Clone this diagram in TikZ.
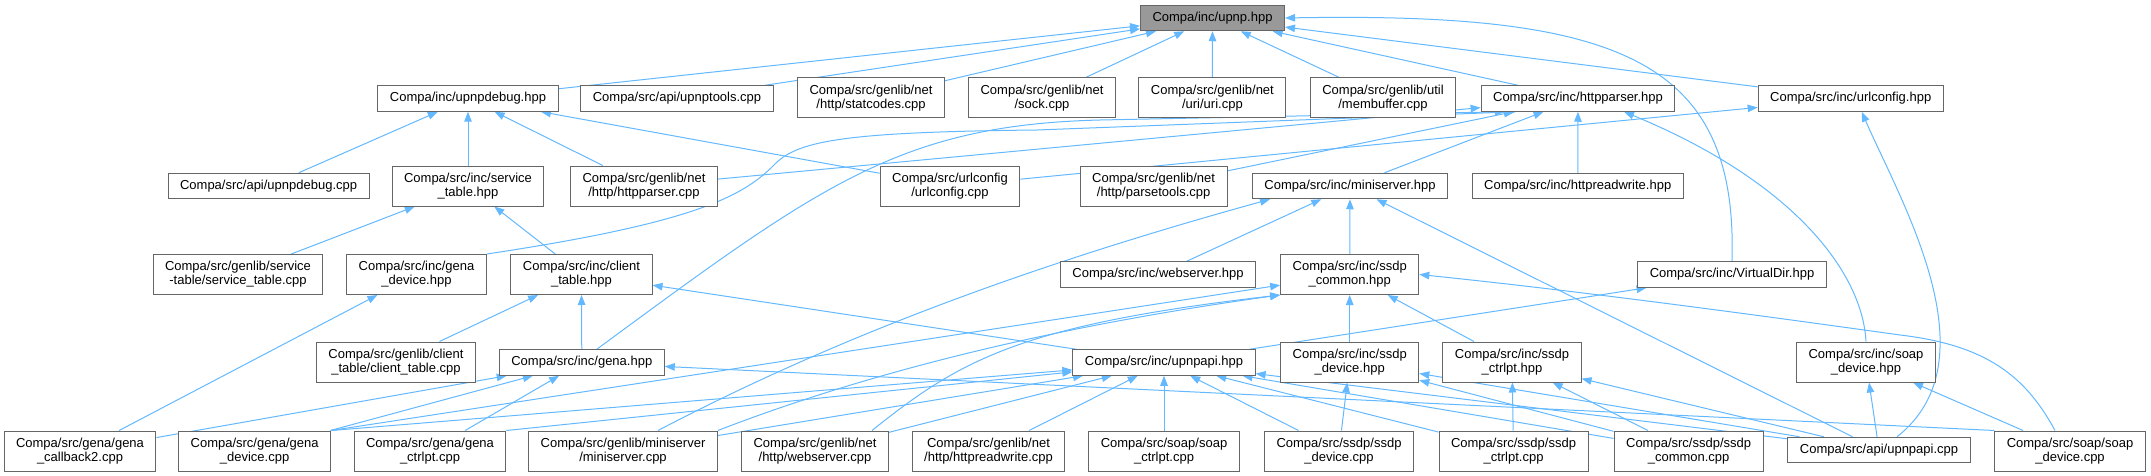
\documentclass[tikz,border=0pt]{standalone}
\usepackage{fontspec}
\setmainfont{Liberation Sans}
\usetikzlibrary{arrows.meta, backgrounds}
\definecolor{nodegrey}{HTML}{666666}
\definecolor{rootgrey}{HTML}{999999}
\definecolor{incblue}{HTML}{63B8FF}
\tikzset{
  file/.style     = {draw=nodegrey, fill=white, line width=1pt, inner xsep=12pt,
                     inner ysep=0pt, align=center, font=\fontsize{13}{14}\selectfont},
  onefile/.style  = {file, minimum height=25.5pt},
  twofile/.style  = {file, minimum height=40pt},
  rootfile/.style = {onefile, fill=rootgrey},
  % an include: the arrow points at the header that is included
  inc/.style      = {draw=incblue, line width=1pt, -{Triangle[length=10pt, width=7.5pt]}},
}

\begin{document}
\begin{tikzpicture}[x=1pt, y=-1pt]
\useasboundingbox (0,0) rectangle (2151,476);
% row 0 and 1
\node[rootfile] (upnp)        at (1212.5,18) {Compa/inc/upnp.hpp};
\node[onefile]  (upnpdebugh)  at (468,98.5)  {Compa/inc/upnpdebug.hpp};
\node[onefile]  (upnptools)   at (677,98.5)  {Compa/src/api/upnptools.cpp};
\node[twofile]  (statcodes)   at (871,98)    {Compa/src/genlib/net\\/http/statcodes.cpp};
\node[twofile]  (sock)        at (1042,98)   {Compa/src/genlib/net\\/sock.cpp};
\node[twofile]  (uri)         at (1212.4,98) {Compa/src/genlib/net\\/uri/uri.cpp};
\node[twofile]  (membuffer)   at (1383,98)   {Compa/src/genlib/util\\/membuffer.cpp};
\node[onefile]  (httpparserh) at (1578,98.5) {Compa/src/inc/httpparser.hpp};
\node[onefile]  (urlconfigh)  at (1850.7,98.5) {Compa/src/inc/urlconfig.hpp};
% row 2
\node[onefile]  (upnpdebugc)     at (268.6,186) {Compa/src/api/upnpdebug.cpp};
\node[twofile]  (servicetableh)  at (468,186)   {Compa/src/inc/service\\\_table.hpp};
\node[twofile]  (httpparserc)    at (644,186)   {Compa/src/genlib/net\\/http/httpparser.cpp};
\node[twofile]  (urlconfigc)     at (950,186)   {Compa/src/urlconfig\\/urlconfig.cpp};
\node[twofile]  (parsetools)     at (1153.6,186) {Compa/src/genlib/net\\/http/parsetools.cpp};
\node[onefile]  (miniserverh)    at (1350,186)  {Compa/src/inc/miniserver.hpp};
\node[onefile]  (httpreadwriteh) at (1577.7,186) {Compa/src/inc/httpreadwrite.hpp};
% row 3
\node[twofile]  (servicetablec) at (238,274.5)    {Compa/src/genlib/service\\-table/service\_table.cpp};
\node[twofile]  (genadeviceh)   at (416.5,274.5)  {Compa/src/inc/gena\\\_device.hpp};
\node[twofile]  (clienttableh)  at (581.5,274.5)  {Compa/src/inc/client\\\_table.hpp};
\node[onefile]  (webserverh)    at (1158,274.5)   {Compa/src/inc/webserver.hpp};
\node[twofile]  (ssdpcommonh)   at (1349.7,274.5) {Compa/src/inc/ssdp\\\_common.hpp};
\node[onefile]  (virtualdir)    at (1732,274.5)   {Compa/src/inc/VirtualDir.hpp};
% row 4
\node[twofile]  (clienttablec) at (396,362)    {Compa/src/genlib/client\\\_table/client\_table.cpp};
\node[onefile]  (genah)        at (581.8,362.5) {Compa/src/inc/gena.hpp};
\node[onefile]  (upnpapih)     at (1164,362.5) {Compa/src/inc/upnpapi.hpp};
\node[twofile]  (ssdpdeviceh)  at (1349.7,362) {Compa/src/inc/ssdp\\\_device.hpp};
\node[twofile]  (ssdpctrlpth)  at (1512,362)   {Compa/src/inc/ssdp\\\_ctrlpt.hpp};
\node[twofile]  (soapdeviceh)  at (1866,362)   {Compa/src/inc/soap\\\_device.hpp};
% row 5
\node[twofile]  (genacallback)   at (80,451)     {Compa/src/gena/gena\\\_callback2.cpp};
\node[twofile]  (genadevicec)    at (254.6,451)  {Compa/src/gena/gena\\\_device.cpp};
\node[twofile]  (genactrlptc)    at (430,451)    {Compa/src/gena/gena\\\_ctrlpt.cpp};
\node[twofile]  (miniserverc)    at (623,451)    {Compa/src/genlib/miniserver\\/miniserver.cpp};
\node[twofile]  (webserverc)     at (815,451)    {Compa/src/genlib/net\\/http/webserver.cpp};
\node[twofile]  (httpreadwritec) at (988.5,451)  {Compa/src/genlib/net\\/http/httpreadwrite.cpp};
\node[twofile]  (soapctrlptc)    at (1164,451)   {Compa/src/soap/soap\\\_ctrlpt.cpp};
\node[twofile]  (ssdpdevicec)    at (1339,451)   {Compa/src/ssdp/ssdp\\\_device.cpp};
\node[twofile]  (ssdpctrlptc)    at (1513.5,451) {Compa/src/ssdp/ssdp\\\_ctrlpt.cpp};
\node[twofile]  (ssdpcommonc)    at (1688.6,451) {Compa/src/ssdp/ssdp\\\_common.cpp};
\node[onefile]  (upnpapic)       at (1879,450)   {Compa/src/api/upnpapi.cpp};
\node[twofile]  (soapdevicec)    at (2070,451)   {Compa/src/soap/soap\\\_device.cpp};

\begin{scope}[on background layer]
\foreach \s/\t in {upnpdebugh/upnp, upnptools/upnp, statcodes/upnp, sock/upnp, uri/upnp,
    membuffer/upnp, httpparserh/upnp, urlconfigh/upnp,
    upnpdebugc/upnpdebugh, servicetableh/upnpdebugh, httpparserc/upnpdebugh, urlconfigc/upnpdebugh,
    httpparserc/httpparserh, parsetools/httpparserh, miniserverh/httpparserh,
    httpreadwriteh/httpparserh, urlconfigc/urlconfigh,
    servicetablec/servicetableh, clienttableh/servicetableh,
    webserverh/miniserverh, ssdpcommonh/miniserverh, upnpapic/miniserverh,
    clienttablec/clienttableh, genah/clienttableh, upnpapih/clienttableh,
    genacallback/genadeviceh, genacallback/genah, genadevicec/genah, genactrlptc/genah,
    soapdevicec.north west/genah,
    genadevicec.north east/ssdpcommonh, ssdpdeviceh/ssdpcommonh, ssdpctrlpth/ssdpcommonh,
    upnpapih/virtualdir,
    genadevicec.north east/upnpapih, genactrlptc.north east/upnpapih, miniserverc/upnpapih,
    webserverc/upnpapih, httpreadwritec/upnpapih, soapctrlptc/upnpapih, ssdpdevicec/upnpapih,
    ssdpctrlptc/upnpapih, ssdpcommonc/upnpapih, upnpapic/upnpapih,
    ssdpdevicec/ssdpdeviceh, ssdpcommonc/ssdpdeviceh, upnpapic/ssdpdeviceh,
    ssdpctrlptc/ssdpctrlpth, ssdpcommonc/ssdpctrlpth, upnpapic/ssdpctrlpth,
    upnpapic/soapdeviceh, soapdevicec/soapdeviceh}
  \draw[inc] (\s) -- (\t);
% the long bent ones
\draw[inc] (virtualdir.north) .. controls (1738,60) and (1620,12) .. (upnp.east);
\draw[inc] ([xshift=18pt]upnpapic.north) .. controls (1995,360) and (1900,200)
  .. ([xshift=11pt]urlconfigh.south);
\draw[inc] (soapdeviceh.north) .. controls (1862,270) and (1790,180)
  .. ([xshift=46pt]httpparserh.south);
\draw[inc] ([xshift=-15pt]soapdevicec.north) .. controls (2025,375) and (1985,345) .. (1900,335)
  .. controls (1700,307) and (1550,288) .. (ssdpcommonh.east);
\draw[inc] ([xshift=15pt]genah.north) .. controls (820,185) and (900,125) .. (1100,120)
  -- ([xshift=-73pt]httpparserh.south);
\draw[inc] (genadeviceh.north east) .. controls (700,222) and (745,195) .. (776,163)
  .. controls (800,140) and (850,132) .. (1037,130) -- ([xshift=-62pt]httpparserh.south);
\draw[inc] ([xshift=35pt]miniserverc.north) .. controls (850,330) and (1050,260)
  .. ([xshift=-80pt]miniserverh.south);
\draw[inc] (miniserverc.north east) .. controls (900,360) and (1100,320) .. (ssdpcommonh.south west);
\draw[inc] ([xshift=57pt]webserverc.north) .. controls (960,360) and (1020,325) .. (ssdpcommonh.south west);
\end{scope}
\end{tikzpicture}
\end{document}
